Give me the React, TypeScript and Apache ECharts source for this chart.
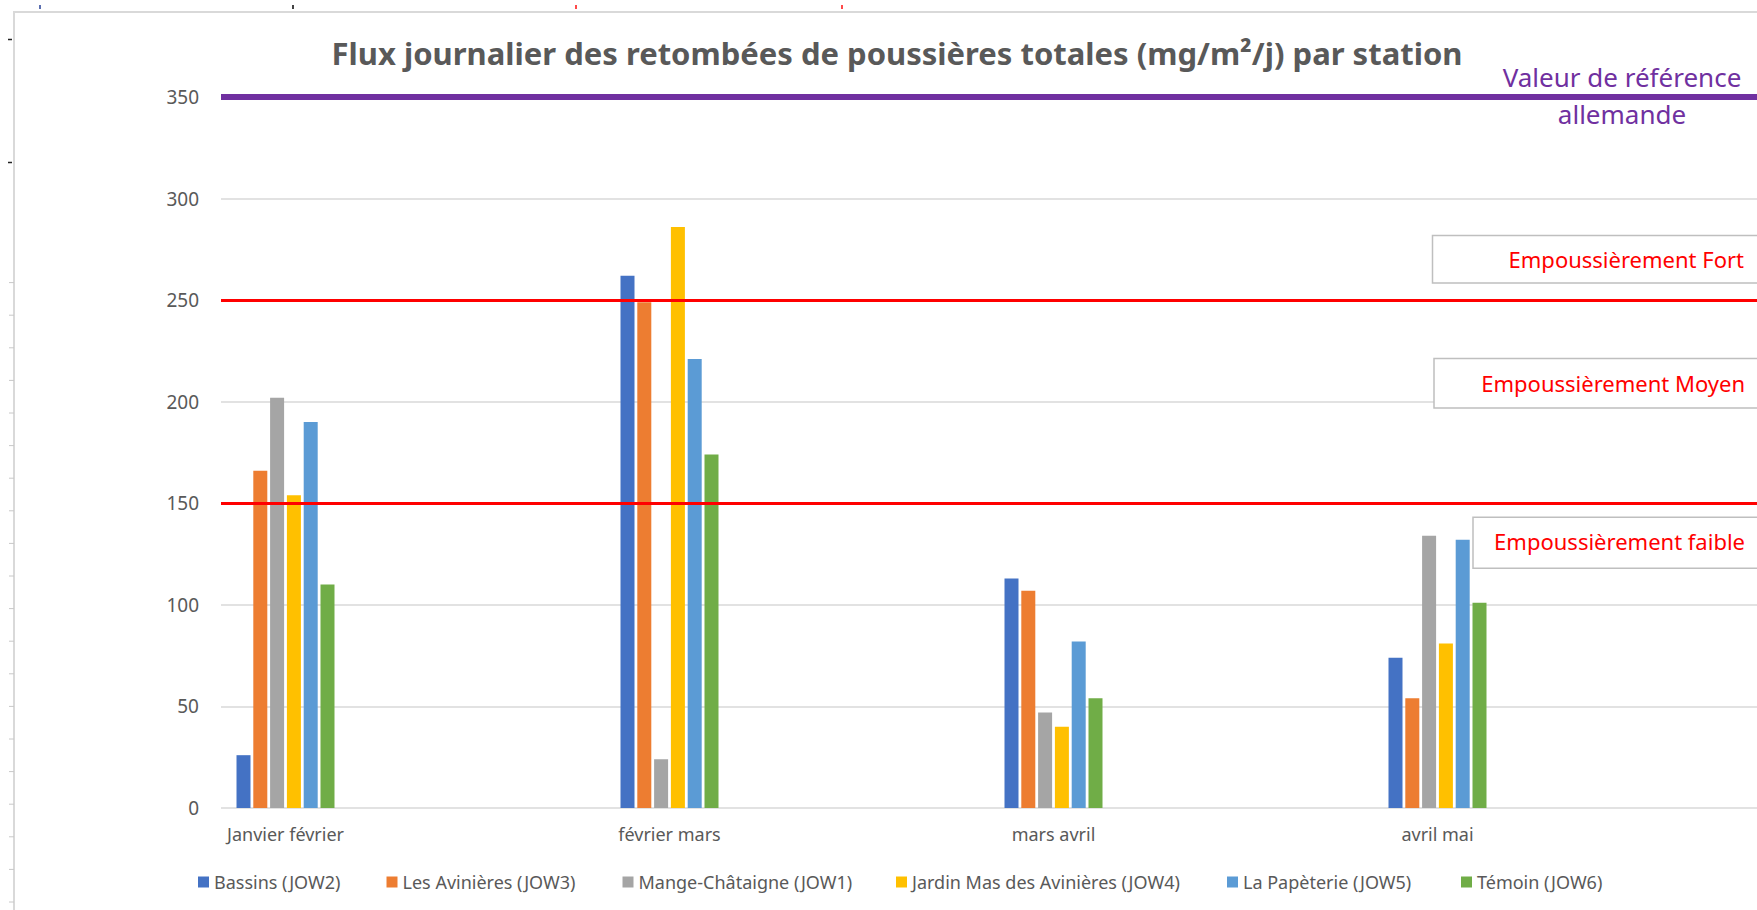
import React, { useEffect, useRef } from "react";
import * as echarts from "echarts";

// ---- Data ----
const categories = ["Janvier février", "février mars", "mars avril", "avril mai"];
const seriesNames = [
  "Bassins (JOW2)",
  "Les Avinières (JOW3)",
  "Mange-Châtaigne (JOW1)",
  "Jardin Mas des Avinières (JOW4)",
  "La Papèterie (JOW5)",
  "Témoin (JOW6)",
];
const bassins = [26, 262, 113, 74];
const avinieres = [166, 249, 107, 54];
const mangeChataigne = [202, 24, 47, 134];
const jardinMas = [154, 286, 40, 81];
const papeterie = [190, 221, 82, 132];
const temoin = [110, 174, 54, 101];
const seriesValues = [bassins, avinieres, mangeChataigne, jardinMas, papeterie, temoin];
const seriesColors = ["#4472C4", "#ED7D31", "#A5A5A5", "#FFC000", "#5B9BD5", "#70AD47"];

const yMin = 0;
const yMax = 350;
const yInterval = 50;
const seuilFaible = 150; // faible / moyen
const seuilFort = 250; // moyen / fort
const valeurAllemande = 350;

const titleText = "Flux journalier des retombées de poussières totales (mg/m²/j) par station";
const FONT = "'Noto Sans', 'Open Sans', sans-serif";
const GREY_TEXT = "#595959";

export default function App() {
  const ref = useRef<HTMLDivElement>(null);

  useEffect(() => {
    if (!ref.current) return;
    const chart = echarts.init(ref.current, undefined, { renderer: "svg" });

    const W = 1757;
    const plotTop = 97;
    const plotBottom = 102;

    const legendLefts = [198, 386.5, 622.5, 896, 1227, 1461];

    const decorations: any[] = [];
    // outer chart frame
    decorations.push({
      type: "rect",
      shape: { x: 14, y: 12, width: 2000, height: 2000 },
      style: { fill: "none", stroke: "#d9d9d9", lineWidth: 2 },
      z: -10,
      silent: true,
    });
    for (let i = 0; i < 20; i++) {
      const y = 282.6 + i * 32.6;
      decorations.push({
        type: "line",
        shape: { x1: 9, y1: y, x2: 14, y2: y },
        style: { stroke: "#c8c8c8", lineWidth: 1 },
        silent: true,
      });
    }
    [39.5, 162.5].forEach((y) =>
      decorations.push({
        type: "line",
        shape: { x1: 8, y1: y, x2: 12, y2: y },
        style: { stroke: "#222", lineWidth: 1.5 },
        silent: true,
      })
    );
    [
      { x: 39, c: "#5b6fb0" },
      { x: 292, c: "#444" },
      { x: 575, c: "#ff4a4a" },
      { x: 841, c: "#ff4a4a" },
    ].forEach((m) =>
      decorations.push({
        type: "rect",
        shape: { x: m.x, y: 5, width: 2, height: 4 },
        style: { fill: m.c },
        silent: true,
      })
    );

    const boxes = [
      { x: 1432.5, y: 235.5, h: 47.5, tx: 1744, ty: 258.6, text: "Empoussièrement Fort" },
      { x: 1434, y: 358.5, h: 49.5, tx: 1745, ty: 382.6, text: "Empoussièrement Moyen" },
      { x: 1473, y: 517.3, h: 51, tx: 1745, ty: 541, text: "Empoussièrement faible" },
    ];
    const boxEls: any[] = [];
    boxes.forEach((b) => {
      boxEls.push({
        type: "rect",
        shape: { x: b.x, y: b.y, width: 400, height: b.h },
        style: { fill: "#ffffff", stroke: "#bfbfbf", lineWidth: 1.5 },
        z: 100,
        silent: true,
      });
      boxEls.push({
        type: "text",
        x: b.tx,
        y: b.ty,
        z: 101,
        style: {
          text: b.text,
          fill: "#ff0000",
          fontSize: 22,
          fontFamily: FONT,
          align: "right",
          verticalAlign: "middle",
          textAlign: "right",
          textVerticalAlign: "middle",
        },
      });
    });

    const textEls: any[] = [
      {
        type: "text",
        x: 897,
        y: 53,
        z: 101,
        style: {
          text: titleText,
          fill: GREY_TEXT,
          fontSize: 31,
          fontWeight: "bold",
          fontFamily: FONT,
          align: "center",
          verticalAlign: "middle",
          textAlign: "center",
          textVerticalAlign: "middle",
        },
      },
      {
        type: "text",
        x: 1622,
        y: 77,
        z: 101,
        style: {
          text: "Valeur de référence",
          fill: "#7030a0",
          fontSize: 26,
          fontFamily: FONT,
          align: "center",
          verticalAlign: "middle",
          textAlign: "center",
          textVerticalAlign: "middle",
        },
      },
      {
        type: "text",
        x: 1622,
        y: 113.5,
        z: 101,
        style: {
          text: "allemande",
          fill: "#7030a0",
          fontSize: 26,
          fontFamily: FONT,
          align: "center",
          verticalAlign: "middle",
          textAlign: "center",
          textVerticalAlign: "middle",
        },
      },
    ];

    const barSeries = seriesNames.map((name, i) => ({
      name,
      type: "bar",
      xAxisIndex: 1,
      yAxisIndex: 1,
      data: seriesValues[i],
      barWidth: 14,
      barGap: "20%",
      itemStyle: { color: seriesColors[i] },
      z: 2,
    }));

    const option: any = {
      animation: false,
      backgroundColor: "#ffffff",
      textStyle: { fontFamily: FONT },
      grid: [
        { left: 221, right: 0, top: plotTop, bottom: plotBottom, containLabel: false },
        { left: 93.5, right: W - 1629.5, top: plotTop, bottom: plotBottom, containLabel: false },
      ],
      xAxis: [
        { type: "value", gridIndex: 0, min: 0, max: 1, show: false },
        {
          type: "category",
          gridIndex: 1,
          data: categories,
          axisLine: { show: false },
          axisTick: { show: false },
          axisLabel: { color: GREY_TEXT, fontSize: 18, fontFamily: FONT, margin: 17 },
        },
      ],
      yAxis: [
        {
          type: "value",
          gridIndex: 0,
          min: yMin,
          max: yMax,
          interval: yInterval,
          axisLine: { show: false },
          axisTick: { show: false },
          axisLabel: { color: GREY_TEXT, fontSize: 19, fontFamily: FONT, margin: 22 },
          splitLine: { show: true, lineStyle: { color: "#d9d9d9", width: 1.5 } },
        },
        { type: "value", gridIndex: 1, min: yMin, max: yMax, interval: yInterval, show: false },
      ],
      legend: seriesNames.map((name, i) => ({
        data: [name],
        left: legendLefts[i],
        top: 873,
        padding: 0,
        itemGap: 0,
        itemWidth: 11,
        itemHeight: 11,
        icon: "rect",
        selectedMode: false,
        textStyle: { color: GREY_TEXT, fontSize: 18, fontFamily: FONT },
      })),
      graphic: [...decorations, ...boxEls, ...textEls],
      series: [
        ...barSeries,
        {
          name: "seuils",
          type: "line",
          xAxisIndex: 0,
          yAxisIndex: 0,
          data: [],
          z: 10,
          silent: true,
          markLine: {
            silent: true,
            symbol: ["none", "none"],
            label: { show: false },
            z: 10,
            data: [
              { yAxis: seuilFaible, lineStyle: { color: "#ff0000", width: 3, type: "solid" } },
              { yAxis: seuilFort, lineStyle: { color: "#ff0000", width: 3, type: "solid" } },
              { yAxis: valeurAllemande, lineStyle: { color: "#7030a0", width: 6, type: "solid" } },
            ],
          },
        },
      ],
    };

    chart.setOption(option);
    return () => chart.dispose();
  }, []);

  return (
    <div
      ref={ref}
      style={{ position: "fixed", left: 0, top: 0, width: 1757, height: 910, background: "#fff" }}
    />
  );
}
